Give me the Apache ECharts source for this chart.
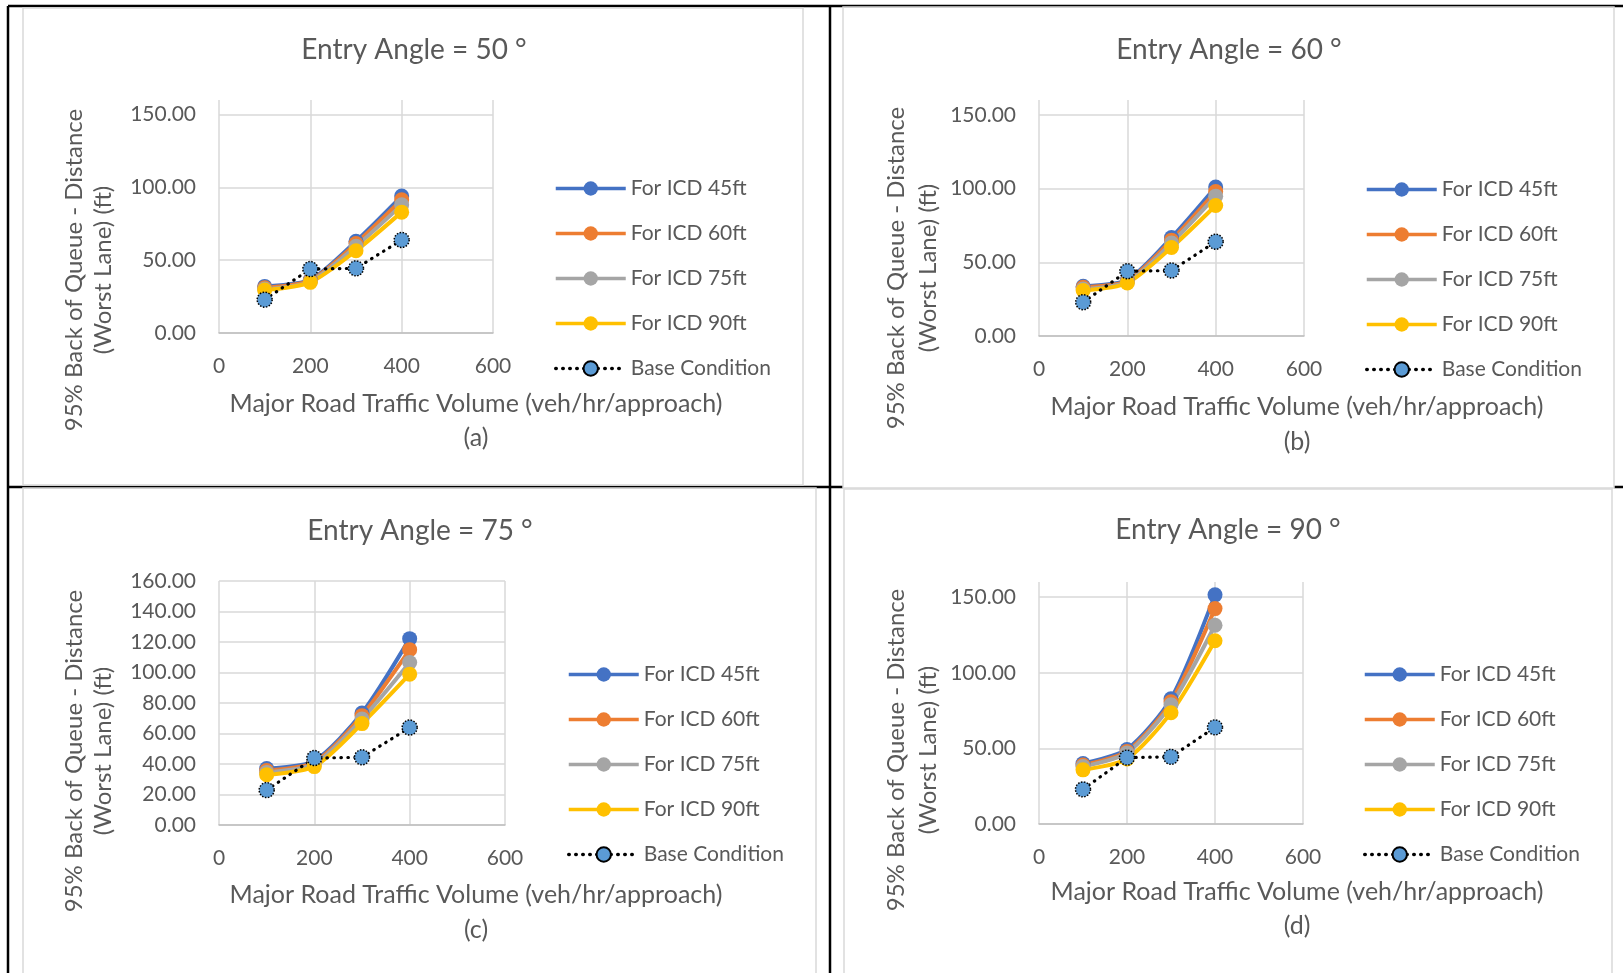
<!DOCTYPE html>
<html>
<head>
<meta charset="utf-8">
<title>95% Back of Queue vs Major Road Traffic Volume</title>
<script src="https://cdn.jsdelivr.net/npm/echarts@6/dist/echarts.min.js"></script>
<style>
html,body{margin:0;padding:0;background:#fff;}
#chart{width:1623px;height:973px;}
</style>
</head>
<body>
<div id="chart"></div>
<script>
// x values: major road traffic volume (veh/hr/approach)
var volumes = [100, 200, 300, 400];
var seriesNames = ['For ICD 45ft', 'For ICD 60ft', 'For ICD 75ft', 'For ICD 90ft', 'Base Condition'];
var panelTitles = ['Entry Angle = 50 °', 'Entry Angle = 60 °', 'Entry Angle = 75 °', 'Entry Angle = 90 °'];
var panelTags = ['(a)', '(b)', '(c)', '(d)'];
var xAxisTitle = 'Major Road Traffic Volume (veh/hr/approach)';
var yAxisTitle = ['95% Back of Queue - Distance', '(Worst Lane) (ft)'];

// 95% back of queue (ft), entry angle 50
var icd45_50 = [32.0, 36.5, 63.0, 94.0];
var icd60_50 = [31.0, 36.0, 61.5, 91.5];
var icd75_50 = [30.2, 35.4, 59.5, 88.0];
var icd90_50 = [29.5, 34.8, 56.5, 83.0];
// entry angle 60
var icd45_60 = [33.7, 38.0, 66.7, 101.0];
var icd60_60 = [33.0, 37.3, 65.0, 98.0];
var icd75_60 = [31.8, 36.6, 63.0, 94.8];
var icd90_60 = [30.8, 35.9, 60.0, 88.5];
// entry angle 75
var icd45_75 = [37.0, 42.0, 73.4, 122.2];
var icd60_75 = [35.7, 41.0, 71.7, 115.0];
var icd75_75 = [34.5, 40.0, 69.5, 106.6];
var icd90_75 = [33.0, 38.3, 66.5, 98.9];
// entry angle 90
var icd45_90 = [40.0, 49.3, 82.8, 151.5];
var icd60_90 = [39.0, 48.0, 80.8, 142.4];
var icd75_90 = [38.0, 47.0, 78.8, 131.4];
var icd90_90 = [35.8, 43.0, 73.6, 121.2];
// base condition (same in every panel)
var baseCondition = [22.9, 43.9, 44.4, 63.9];

// y axis ticks per panel
var yMaxes = [160, 160, 160, 160];
var ySteps = [50, 50, 20, 50];

var colors = ['#4472c4', '#ed7d31', '#a5a5a5', '#ffc000'];
var FONT = 'Lato';
var TXT = '#595959';

var panels = [
  {lines: [icd45_50, icd60_50, icd75_50, icd90_50], box: [23, 8, 780, 477],
   grid: {left: 219, top: 100, width: 274, height: 233}, title: [414, 50],
   yName: [74.5, 103.5, 270], xName: [476, 404, 438], legend: [554, 178]},
  {lines: [icd45_60, icd60_60, icd75_60, icd90_60], box: [843, 7, 771, 481],
   grid: {left: 1039, top: 100, width: 265, height: 236}, title: [1229, 50],
   yName: [896, 928, 268], xName: [1297, 407, 442], legend: [1365, 179]},
  {lines: [icd45_75, icd60_75, icd75_75, icd90_75], box: [23, 488, 793, 500],
   grid: {left: 219, top: 581, width: 286, height: 244}, title: [420, 531],
   yName: [74.5, 103.5, 751], xName: [476, 895, 930], legend: [567, 664]},
  {lines: [icd45_90, icd60_90, icd75_90, icd90_90], box: [844, 489, 768, 500],
   grid: {left: 1039, top: 582, width: 264, height: 242}, title: [1228, 530],
   yName: [896, 928, 750], xName: [1297, 892, 926], legend: [1363, 664]}
];

function pairs(arr) {
  return volumes.map(function (v, k) { return [v, arr[k]]; });
}

var grids = [], xAxes = [], yAxes = [], series = [], legends = [], titles = [];
var graphics = [];

// table lines
function blackLine(x1, y1, x2, y2) {
  graphics.push({type: 'line', shape: {x1: x1, y1: y1, x2: x2, y2: y2}, style: {stroke: '#000', lineWidth: 2.5}});
}
blackLine(8, 6, 1623, 6);
blackLine(8, 6, 8, 973);
blackLine(830, 6, 830, 973);
blackLine(8, 487, 843, 487);
blackLine(1614, 487, 1623, 487);

function label(text, x, y, rot, size) {
  graphics.push({
    type: 'text', x: x, y: y, rotation: rot,
    style: {text: text, font: size + 'px ' + FONT, fill: TXT, textAlign: 'center', textVerticalAlign: 'middle'}
  });
}

panels.forEach(function (p, i) {
  var step = ySteps[i];
  graphics.push({type: 'rect', shape: {x: p.box[0], y: p.box[1], width: p.box[2], height: p.box[3]},
    style: {fill: 'none', stroke: '#d9d9d9', lineWidth: 1.5}});
  label(yAxisTitle[0], p.yName[0], p.yName[2], Math.PI / 2, 24);
  label(yAxisTitle[1], p.yName[1], p.yName[2], Math.PI / 2, 24);
  label(xAxisTitle, p.xName[0], p.xName[1], 0, 25);
  label(panelTags[i], p.xName[0], p.xName[2], 0, 25);

  titles.push({
    text: panelTitles[i], left: p.title[0], top: p.title[1] - 17, textAlign: 'center', padding: 0,
    textStyle: {fontFamily: FONT, fontSize: 28, fontWeight: 'normal', color: TXT, lineHeight: 34}
  });

  grids.push({left: p.grid.left, top: p.grid.top, width: p.grid.width, height: p.grid.height,
    containLabel: false, outerBoundsMode: 'none'});

  xAxes.push({
    type: 'value', gridIndex: i, min: 0, max: 600, interval: 200,
    axisLine: {show: true, lineStyle: {color: '#bfbfbf', width: 1.5}},
    axisTick: {show: false},
    splitLine: {show: true, lineStyle: {color: '#d9d9d9', width: 1.5}},
    axisLabel: {color: TXT, fontFamily: FONT, fontSize: 21, margin: 23}
  });

  yAxes.push({
    type: 'value', gridIndex: i, min: 0, max: yMaxes[i], interval: step,
    axisLine: {show: false},
    axisTick: {show: false},
    splitLine: {show: true, showMaxLine: yMaxes[i] % step === 0, lineStyle: {color: '#d9d9d9', width: 1.5}},
    axisLabel: {
      color: TXT, fontFamily: FONT, fontSize: 21, margin: 23,
      formatter: function (v) { return v % step === 0 ? v.toFixed(2) : ''; }
    }
  });

  p.lines.forEach(function (arr, k) {
    series.push({
      name: seriesNames[k], type: 'line', xAxisIndex: i, yAxisIndex: i,
      data: pairs(arr), smooth: 0.25,
      symbol: 'circle', symbolSize: 15,
      lineStyle: {color: colors[k], width: 4},
      itemStyle: {color: colors[k]}
    });
  });
  series.push({
    name: seriesNames[4], type: 'line', xAxisIndex: i, yAxisIndex: i,
    data: pairs(baseCondition),
    symbol: 'circle', symbolSize: 15,
    lineStyle: {color: '#000', width: 3.2, type: [0.5, 6.5], cap: 'round'},
    itemStyle: {color: '#5b9bd5', borderColor: '#000', borderWidth: 1.5, borderType: 'dotted'}
  });

  legends.push({
    data: seriesNames, orient: 'vertical', left: p.legend[0], top: p.legend[1],
    itemWidth: 70, itemHeight: 18, itemGap: 24, padding: 0,
    lineStyle: {width: 3.5},
    textStyle: {fontFamily: FONT, fontSize: 21, color: TXT, lineHeight: 21}
  });
});

var chart = echarts.init(document.getElementById('chart'));
var option = {
  animation: false,
  backgroundColor: '#fff',
  title: titles,
  grid: grids,
  xAxis: xAxes,
  yAxis: yAxes,
  legend: legends,
  series: series,
  graphic: graphics
};
chart.setOption(option);
window.addEventListener('resize', function () { chart.resize(); });
</script>
</body>
</html>
